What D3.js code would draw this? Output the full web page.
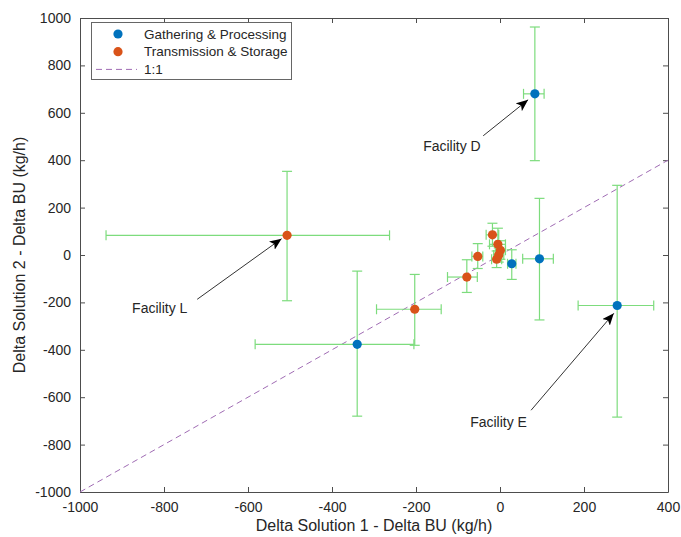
<!DOCTYPE html>
<html>
<head>
<meta charset="utf-8">
<script src="https://cdn.jsdelivr.net/npm/d3@7"></script>
<style>
  body { margin: 0; background: #fff; }
  text { font-family: "Liberation Sans", Arial, sans-serif; fill: #262626; }
</style>
</head>
<body>
<script>
// chart size
const width = 681, height = 537;
const margin = {top: 18, right: 13, bottom: 45, left: 80};

// Gathering & Processing: x, y, x error (-,+), y error (-,+)
const gpX    = [83, 279, 94, -340, 28];
const gpY    = [680, -213, -16, -377, -37];
const gpXneg = [27, 93, 40, 243, 10];
const gpXpos = [22, 87, 33, 135, 10];
const gpYneg = [282, 471, 258, 303, 66];
const gpYpos = [282, 507, 255, 309, 59];

// Transmission & Storage
const tsX    = [-507, -203, -79, -53, -18, -5, 1, -3, -8];
const tsY    = [83, -229, -93, -6, 85, 45, 20, 0, -18];
const tsXneg = [431, 91, 46, 14, 15, 20, 12, 12, 12];
const tsXpos = [244, 63, 25, 12, 15, 18, 12, 12, 12];
const tsYneg = [276, 152, 65, 51, 48, 42, 38, 30, 35];
const tsYpos = [270, 147, 73, 54, 49, 68, 40, 30, 35];

// axis ticks
const xTicks = [-1000, -800, -600, -400, -200, 0, 200, 400];
const yTicks = [-1000, -800, -600, -400, -200, 0, 200, 400, 600, 800, 1000];

// annotations: label, text baseline start, arrow start, arrow tip (data units)
const labels     = ["Facility L", "Facility D", "Facility E"];
const labelPos   = [[-876, -246], [-183, 440], [-71, -726]];
const arrowStart = [[-721, -187], [-40, 503], [74, -655]];
const arrowTip   = [[-520, 69], [67, 655], [271, -246]];

const svg = d3.select("body").append("svg")
    .attr("width", width)
    .attr("height", height);

const x = d3.scaleLinear().domain([-1000, 400]).range([margin.left, width - margin.right]);
const y = d3.scaleLinear().domain([-1000, 1000]).range([height - margin.bottom, margin.top]);

const axisColor = "#4d4d4d";
const fmt = d => String(d);   // plain hyphen minus, like the original

// axes with inward ticks, box on all sides
svg.append("g")
    .attr("transform", `translate(0,${height - margin.bottom})`)
    .call(d3.axisBottom(x).tickValues(xTicks).tickFormat(fmt).tickSizeInner(-5).tickSizeOuter(0).tickPadding(10));
svg.append("g")
    .attr("transform", `translate(${margin.left},0)`)
    .call(d3.axisLeft(y).tickValues(yTicks).tickFormat(fmt).tickSizeInner(-5).tickSizeOuter(0).tickPadding(9));
svg.append("g")
    .attr("transform", `translate(0,${margin.top})`)
    .call(d3.axisTop(x).tickValues(xTicks).tickSizeInner(-5).tickSizeOuter(0).tickFormat(""));
svg.append("g")
    .attr("transform", `translate(${width - margin.right},0)`)
    .call(d3.axisRight(y).tickValues(yTicks).tickSizeInner(-5).tickSizeOuter(0).tickFormat(""));

svg.selectAll(".domain, .tick line").attr("stroke", axisColor);
svg.selectAll(".tick text")
    .style("font-size", "14px")
    .attr("fill", "#262626")
    .style("font-family", "'Liberation Sans', Arial, sans-serif");

// axis titles
svg.append("text")
    .attr("x", (margin.left + width - margin.right) / 2)
    .attr("y", 531)
    .attr("text-anchor", "middle")
    .style("font-size", "16px")
    .text("Delta Solution 1 - Delta BU (kg/h)");
svg.append("text")
    .attr("transform", `translate(25,${(margin.top + height - margin.bottom) / 2}) rotate(-90)`)
    .attr("text-anchor", "middle")
    .style("font-size", "16px")
    .text("Delta Solution 2 - Delta BU (kg/h)");

// 1:1 line
svg.append("line")
    .attr("x1", x(-1000)).attr("y1", y(-1000))
    .attr("x2", x(400)).attr("y2", y(400))
    .attr("stroke", "#a06cb4")
    .attr("stroke-width", 1)
    .attr("stroke-dasharray", "6,4");

const errColor = "#7ddc7d";
const cap = 5;

function drawSeries(xs, ys, xn, xp, yn, yp, color) {
  const g = svg.append("g");
  xs.forEach((xv, i) => {
    const yv = ys[i];
    const eb = g.append("g").attr("stroke", errColor).attr("stroke-width", 1.2).attr("fill", "none");
    // vertical
    eb.append("line").attr("x1", x(xv)).attr("x2", x(xv)).attr("y1", y(yv - yn[i])).attr("y2", y(yv + yp[i]));
    eb.append("line").attr("x1", x(xv) - cap).attr("x2", x(xv) + cap).attr("y1", y(yv - yn[i])).attr("y2", y(yv - yn[i]));
    eb.append("line").attr("x1", x(xv) - cap).attr("x2", x(xv) + cap).attr("y1", y(yv + yp[i])).attr("y2", y(yv + yp[i]));
    // horizontal
    eb.append("line").attr("x1", x(xv - xn[i])).attr("x2", x(xv + xp[i])).attr("y1", y(yv)).attr("y2", y(yv));
    eb.append("line").attr("x1", x(xv - xn[i])).attr("x2", x(xv - xn[i])).attr("y1", y(yv) - cap).attr("y2", y(yv) + cap);
    eb.append("line").attr("x1", x(xv + xp[i])).attr("x2", x(xv + xp[i])).attr("y1", y(yv) - cap).attr("y2", y(yv) + cap);
  });
  g.selectAll("circle").data(xs).join("circle")
    .attr("cx", d => x(d))
    .attr("cy", (d, i) => y(ys[i]))
    .attr("r", 4.6)
    .attr("fill", color);
}

drawSeries(gpX, gpY, gpXneg, gpXpos, gpYneg, gpYpos, "#0072BD");
drawSeries(tsX, tsY, tsXneg, tsXpos, tsYneg, tsYpos, "#D95319");

// arrowhead marker
svg.append("defs").append("marker")
    .attr("id", "arrow")
    .attr("viewBox", "0 0 12 10")
    .attr("refX", 12).attr("refY", 5)
    .attr("markerWidth", 12).attr("markerHeight", 10)
    .attr("markerUnits", "userSpaceOnUse")
    .attr("orient", "auto")
  .append("path")
    .attr("d", "M0,0 L12,5 L0,10 L3,5 Z")
    .attr("fill", "#000");

labels.forEach((lab, i) => {
  svg.append("line")
      .attr("x1", x(arrowStart[i][0])).attr("y1", y(arrowStart[i][1]))
      .attr("x2", x(arrowTip[i][0])).attr("y2", y(arrowTip[i][1]))
      .attr("stroke", "#333")
      .attr("stroke-width", 1)
      .attr("marker-end", "url(#arrow)");
  svg.append("text")
      .attr("x", x(labelPos[i][0]))
      .attr("y", y(labelPos[i][1]))
      .style("font-size", "14px")
      .attr("fill", "#000")
      .text(lab);
});

// legend
const legend = svg.append("g");
legend.append("rect")
    .attr("x", 91.5).attr("y", 22.5)
    .attr("width", 200).attr("height", 57)
    .attr("fill", "#fff")
    .attr("stroke", "#666");
const legItems = ["Gathering & Processing", "Transmission & Storage", "1:1"];
const legColors = ["#0072BD", "#D95319", "#a06cb4"];
legItems.forEach((name, i) => {
  const ly = 34 + i * 17.7;
  if (i < 2) {
    legend.append("circle").attr("cx", 118).attr("cy", ly).attr("r", 4.6).attr("fill", legColors[i]);
  } else {
    legend.append("line").attr("x1", 96).attr("x2", 137).attr("y1", ly).attr("y2", ly)
      .attr("stroke", legColors[i]).attr("stroke-dasharray", "6,4");
  }
  legend.append("text")
      .attr("x", 144).attr("y", ly)
      .attr("dy", "0.35em")
      .style("font-size", "13.5px")
      .text(name);
});
</script>
</body>
</html>
